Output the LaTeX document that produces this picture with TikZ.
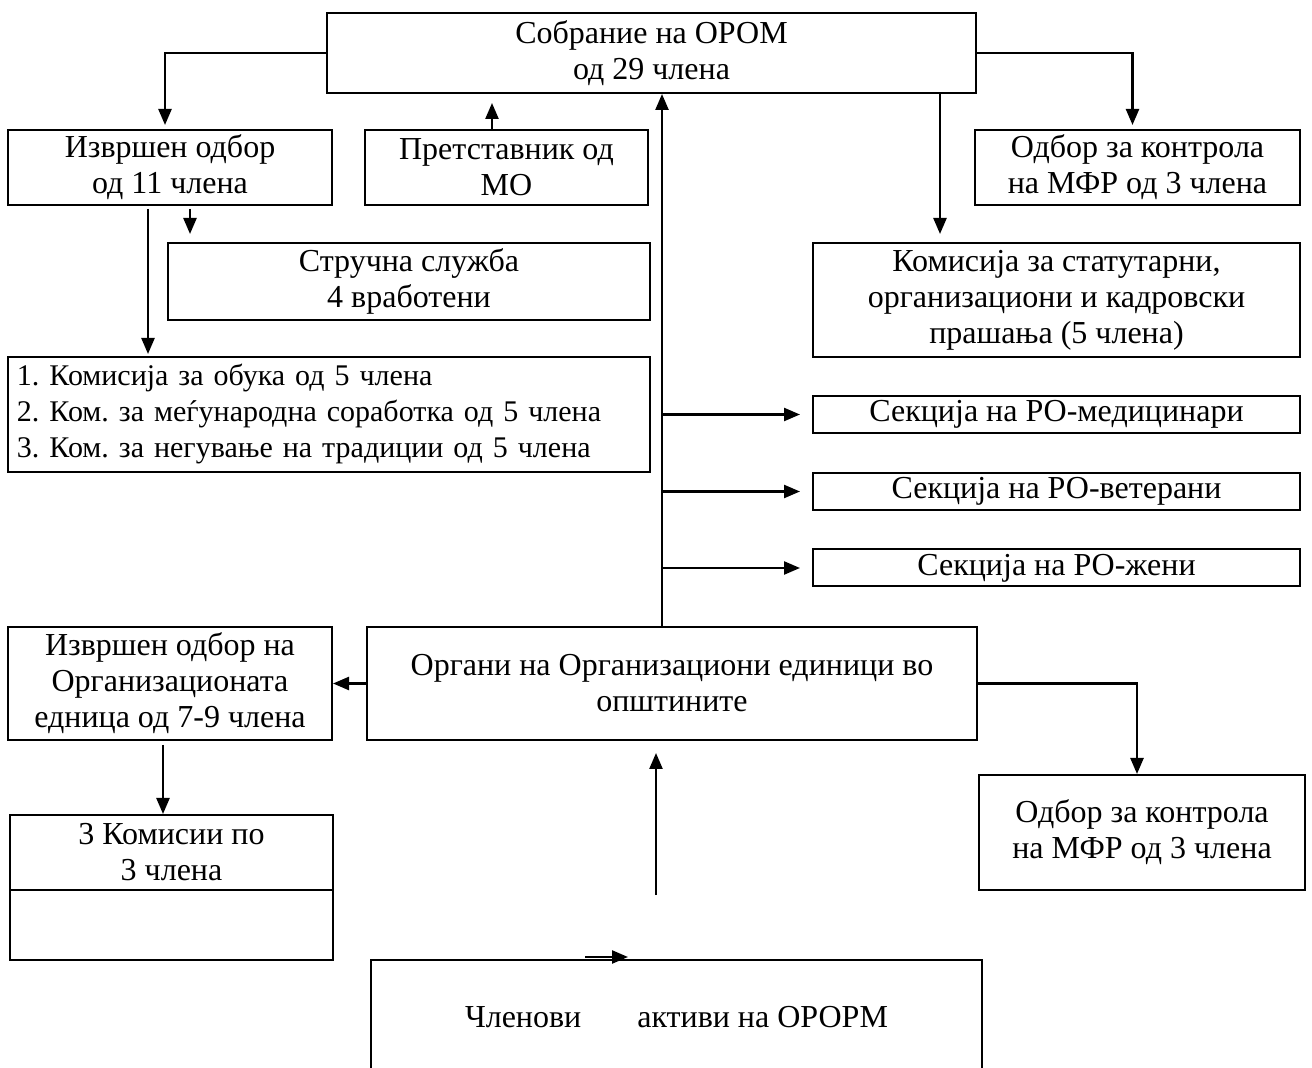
\documentclass[tikz,border=0pt]{standalone}
\usepackage{fontspec}
\setmainfont{Liberation Serif}
\frenchspacing
\usetikzlibrary{positioning, arrows.meta}

\begin{document}
\begin{tikzpicture}[
     x = 0.5pt, y = -0.5pt,
     >= {Triangle[length=8pt, width=6.5pt]},
every node/.style = {font=\fontsize{16pt}{18pt}\selectfont},
        box/.style = {rectangle, draw, line width=1pt, inner xsep=3pt, inner ysep=1pt, align=center},
        arr/.style = {->, line width=1.2pt}
                        ]
\clip (0,0) rectangle (1312,1068);
% boxes
\node (sob) [box, minimum width=324.5pt, minimum height=40pt] at (651.5,53) {Собрание на ОРОМ\\од 29 члена};
\node (izv) [box, minimum width=162pt, minimum height=37.5pt] at (170,167.5) {Извршен одбор\\од 11 члена};
\node (pret) [box, minimum width=141.5pt, minimum height=37.5pt] at (506.5,167.5) {Претставник од\\МО};
\node (odb) [box, minimum width=162.5pt, minimum height=37.5pt] at (1137.5,167.5) {Одбор за контрола\\на МФР од 3 члена};
\node (str) [box, minimum width=241pt, minimum height=38.5pt] at (409,281.5) {Стручна служба\\4 вработени};
\node (kom) [box, minimum width=243.5pt, minimum height=57pt] at (1056.5,300) {Комисија за статутарни,\\организациони и кадровски\\прашања (5 члена)};
\node (lst) [box, text width=312pt, inner xsep=4.5pt, align=left, minimum height=57.5pt,
             font=\fontsize{15pt}{18pt}\selectfont] at (329,414.5) {1. Комисија за обука од 5 члена\\2. Ком. за меѓународна соработка од 5 члена\\3. Ком. за негување на традиции од 5 члена};
\node (sec1) [box, minimum width=243.5pt, minimum height=18.5pt] at (1056.5,414.5) {Секција на РО-медицинари};
\node (sec2) [box, minimum width=243.5pt, minimum height=18.5pt] at (1056.5,491.5) {Секција на РО-ветерани};
\node (sec3) [box, minimum width=243.5pt, minimum height=18.5pt] at (1056.5,568) {Секција на РО-жени};
\node (org) [box, minimum width=305pt, minimum height=56.5pt] at (672,683.5) {Органи на Организациони единици во\\општините};
\node (izv2) [box, minimum width=162pt, minimum height=56.5pt] at (170,683.5) {Извршен одбор на\\Организационата\\едница од 7-9 члена};
\node (kms) [box, minimum width=161.5pt, minimum height=37.5pt] at (171.5,852.5) {3 Комисии по\\3 члена};
\node (kmsb) [box, minimum width=161.5pt, minimum height=35pt, below=-1pt of kms] {};
\node (odb2) [box, minimum width=163pt, minimum height=57.5pt] at (1142,832.5) {Одбор за контрола\\на МФР од 3 члена};
\node (cln) [box, minimum width=305.5pt, minimum height=57pt] at (676.5,1017) {Членови\hspace{28pt}активи на ОРОРМ};
% free ends
\coordinate (spine) at (662,0);
\coordinate (komx) at (940,0);
\coordinate (izvx) at (148,0);
\coordinate (strx) at (190,0);
\coordinate (kmsx) at (163,0);
\coordinate (pretup) at (492,103);
\coordinate (pretx) at (492,0);
\coordinate (clnup) at (656,895);
\coordinate (mark1) at (585,957);
\coordinate (mark2) at (628,957);
% connectors
\draw[arr, shorten >=2pt] (sob.west) -| ([xshift=-2.5pt]izv.north);
\draw[arr] (pret.north -| pretx) -- (pretup);
\draw[arr] (org.north -| spine) -- (sob.south -| spine);
\foreach \s in {sec1,sec2,sec3}
  \draw[arr, shorten >=6pt] (spine |- \s) -- (\s.west);
\draw[arr, shorten >=2pt] (sob.east) -| ([xshift=-2.5pt]odb.north);
\draw[arr, shorten >=4pt] (sob.south -| komx) -- (kom.north -| komx);
\draw[arr, shorten <=1.5pt, shorten >=1pt] (izv.south -| izvx) -- (lst.north -| izvx);
\draw[arr, shorten <=1.5pt, shorten >=4pt] (izv.south -| strx) -- (str.north -| strx);
\draw[arr] (org.west) -- (izv2.east);
\draw[arr, shorten <=2pt] (izv2.south -| kmsx) -- (kms.north -| kmsx);
\draw[arr] (org.east) -| ([xshift=-2.5pt]odb2.north);
\draw[arr, shorten >=6pt] (clnup) -- (clnup |- org.south);
\draw[arr] (mark1) -- (mark2);
\end{tikzpicture}
\end{document}
